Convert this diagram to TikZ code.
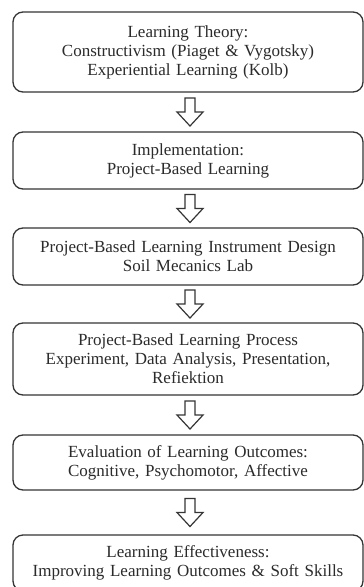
\documentclass[tikz,border=0pt]{standalone}
\usepackage{fontspec}
\setmainfont{Liberation Serif}
\usetikzlibrary{calc}

\definecolor{edge}{HTML}{353535}
\definecolor{ink}{HTML}{2B2B2B}

\tikzset{
  stagebox/.style={draw=edge, line width=1.3pt, rounded corners=10pt,
    rectangle, minimum width=350pt, text width=344pt, align=center,
    inner sep=0pt, text=ink,
    font=\fontsize{17pt}{19pt}\selectfont},
  hollowarrow/.style={draw=edge, line width=1.2pt, fill=white, line join=miter},
}

% hollow block arrow midway between two stacked boxes
\newcommand\stagearrow[2]{%
  \draw[hollowarrow] ($(#1.south)!0.5!(#2.north)+(2pt,0)$)
    ++(-5pt,14pt) -- ++(10pt,0) -- ++(0,-14pt) -- ++(8pt,0)
    -- ++(-13pt,-14pt) -- ++(-13pt,14pt) -- ++(8pt,0) -- cycle;}

\begin{document}
\begin{tikzpicture}[x=1pt,y=1pt]
  \useasboundingbox (0,0) rectangle (364,-587);
  \fill[white] (0,0) rectangle (364,-587);
  \clip (0,0) rectangle (364,-587);

  \node[stagebox, minimum height=80pt] (theory) at (188,-52)
    {Learning Theory:\\Constructivism (Piaget \& Vygotsky)\\Experiential Learning (Kolb)};
  \node[stagebox, minimum height=57pt] (impl) at (188,-160.5)
    {Implementation:\\Project-Based Learning};
  \node[stagebox, minimum height=57pt] (design) at (188,-256.5)
    {Project-Based Learning Instrument Design\\Soil Mecanics Lab};
  \node[stagebox, minimum height=72pt] (process) at (188,-359)
    {Project-Based Learning Process\\Experiment, Data Analysis, Presentation,\\Refiektion};
  \node[stagebox, minimum height=55pt] (eval) at (188,-462.5)
    {Evaluation of Learning Outcomes:\\Cognitive, Psychomotor, Affective};
  \node[stagebox, minimum height=56pt] (effect) at (188,-563)
    {Learning Effectiveness:\\Improving Learning Outcomes \& Soft Skills};

  \stagearrow{theory}{impl}
  \stagearrow{impl}{design}
  \stagearrow{design}{process}
  \stagearrow{process}{eval}
  \stagearrow{eval}{effect}
\end{tikzpicture}
\end{document}
